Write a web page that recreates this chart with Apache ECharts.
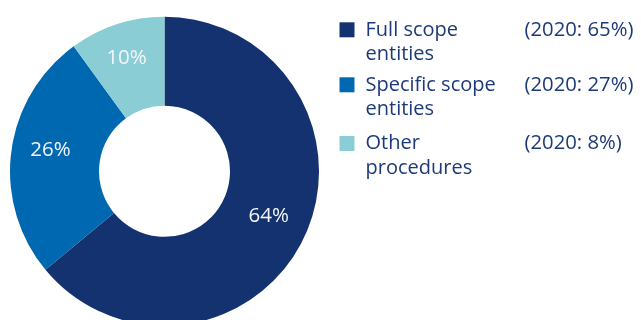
<!DOCTYPE html>
<html>
<head>
<meta charset="utf-8">
<script src="https://cdn.jsdelivr.net/npm/echarts@6/dist/echarts.min.js"></script>
<style>
html,body{margin:0;padding:0;background:#fff;}
#chart{width:641px;height:320px;}
</style>
</head>
<body>
<div id="chart"></div>
<script>
// Data
var categories = ['Full scope\nentities', 'Specific scope\nentities', 'Other\nprocedures'];
var values2021 = [64, 26, 10];
var values2020 = [65, 27, 8];

var colors = ['#14326f', '#0068b0', '#8bcdd4'];
var textColor = '#1d3a78';
var fontFamily = '"Open Sans", "Noto Sans", sans-serif';
var lineH = 24.5;
var legendTops = [22.3, 77.3, 136];
var labelNudge = [[2, -3], [-2, -6.5], [-3, -5.7]];

var chart = echarts.init(document.getElementById('chart'), null, {renderer: 'canvas'});

var legends = categories.map(function (name, i) {
  return {
    data: [name],
    orient: 'vertical',
    left: 339.5,
    top: legendTops[i] - 1.5 * lineH + 7.5,
    padding: 0,
    icon: 'rect',
    itemWidth: 15,
    itemHeight: 15,
    selectedMode: false,
    formatter: function (n) {
      var lines = n.split('\n');
      var out = '{a|' + lines[0] + '}{b|(2020: ' + values2020[i] + '%)}';
      for (var k = 1; k < lines.length; k++) out += '\n{a|' + lines[k] + '}';
      return out;
    },
    textStyle: {
      color: textColor,
      fontFamily: fontFamily,
      fontSize: 20,
      lineHeight: lineH,
      padding: [lineH, 0, 0, 6],
      rich: {
        a: {width: 159, color: textColor, fontFamily: fontFamily, fontSize: 20, lineHeight: lineH},
        b: {color: textColor, fontFamily: fontFamily, fontSize: 20.3, lineHeight: lineH}
      }
    }
  };
});

chart.setOption({
  animation: false,
  color: colors,
  legend: legends,
  series: [{
    type: 'pie',
    center: [164.5, 171.3],
    radius: [65.5, 154.5],
    startAngle: 90,
    clockwise: true,
    avoidLabelOverlap: false,
    itemStyle: {borderWidth: 0},
    label: {
      show: true,
      position: 'inside',
      formatter: '{c}%',
      color: '#f4f6fa',
      fontFamily: fontFamily,
      fontSize: 20.5
    },
    labelLine: {show: false},
    labelLayout: function (p) {
      var d = labelNudge[p.dataIndex];
      return {dx: d[0], dy: d[1]};
    },
    data: categories.map(function (c, i) {
      return {name: c, value: values2021[i]};
    })
  }]
});
</script>
</body>
</html>
